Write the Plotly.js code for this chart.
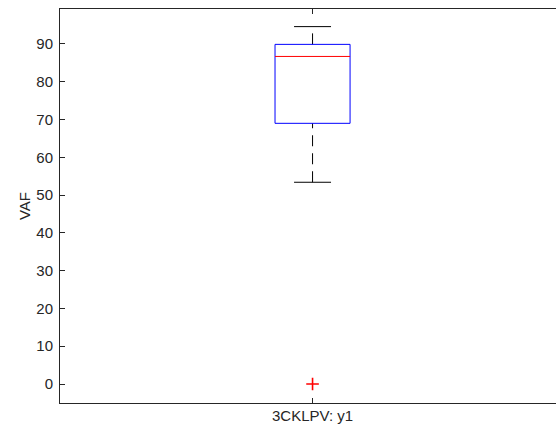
<!DOCTYPE html>
<html>
<head>
<meta charset="utf-8">
<script src="https://cdn.plot.ly/plotly-3.0.1.min.js"></script>
<style>
  html, body { margin: 0; padding: 0; background: #fff; }
  #chart { width: 556px; height: 430px; }
</style>
</head>
<body>
<div id="chart"></div>
<script>
// Box-plot summary for the single group
const groups = ['3CKLPV: y1'];
const q1 = [69.0];
const medians = [86.7];
const q3 = [89.9];
const lowerWhisker = [53.4];
const upperWhisker = [94.6];
const outliers = [[0]];

const yTicks = [0, 10, 20, 30, 40, 50, 60, 70, 80, 90];

// Drawing widths in x-axis units (groups sit at 1, 2, ...)
const BOX_HALF = 0.0743;
const CAP_HALF = 0.0366;

const AXIS_COLOR = '#262626';
const FONT = 'Liberation Sans, Arial, Helvetica, sans-serif';

const traces = [];
groups.forEach((g, i) => {
  const c = i + 1;
  const dashed = { color: '#000000', width: 1, dash: '11px,7px' };
  // upper whisker (drawn from box upwards)
  traces.push({ type: 'scatter', mode: 'lines', x: [c, c], y: [q3[i], upperWhisker[i]],
    line: dashed, hoverinfo: 'skip' });
  // lower whisker (drawn from its end up to the box)
  traces.push({ type: 'scatter', mode: 'lines', x: [c, c], y: [lowerWhisker[i], q1[i]],
    line: dashed, hoverinfo: 'skip' });
  // whisker caps
  traces.push({ type: 'scatter', mode: 'lines',
    x: [c - CAP_HALF, c + CAP_HALF, null, c - CAP_HALF, c + CAP_HALF],
    y: [upperWhisker[i], upperWhisker[i], null, lowerWhisker[i], lowerWhisker[i]],
    line: { color: '#000000', width: 1 }, hoverinfo: 'skip' });
  // box
  traces.push({ type: 'scatter', mode: 'lines',
    x: [c - BOX_HALF, c + BOX_HALF, c + BOX_HALF, c - BOX_HALF, c - BOX_HALF],
    y: [q1[i], q1[i], q3[i], q3[i], q1[i]],
    line: { color: '#0000ff', width: 1 }, hoverinfo: 'skip' });
  // median
  traces.push({ type: 'scatter', mode: 'lines',
    x: [c - BOX_HALF, c + BOX_HALF], y: [medians[i], medians[i]],
    line: { color: '#ff0000', width: 1 }, hoverinfo: 'skip' });
  // outliers
  traces.push({ type: 'scatter', mode: 'markers',
    x: outliers[i].map(() => c), y: outliers[i],
    marker: { symbol: 'cross-thin', size: 9, line: { color: '#ff0000', width: 1.6 } },
    hoverinfo: 'skip' });
});

const layout = {
  width: 556,
  height: 430,
  margin: { l: 60, r: 0, t: 9, b: 27 },
  paper_bgcolor: '#ffffff',
  plot_bgcolor: '#ffffff',
  showlegend: false,
  font: { family: FONT, size: 15, color: AXIS_COLOR },
  xaxis: {
    range: [0.5, 1.482],
    tickvals: groups.map((g, i) => i + 1),
    ticktext: groups,
    ticks: 'inside',
    ticklen: 5,
    tickcolor: AXIS_COLOR,
    showline: true,
    linecolor: AXIS_COLOR,
    linewidth: 1,
    mirror: 'ticks',
    showgrid: false,
    zeroline: false,
    ticklabelstandoff: -1,
    tickfont: { family: FONT, size: 15, color: AXIS_COLOR }
  },
  yaxis: {
    range: [-5.03, 99.26],
    tickvals: yTicks,
    ticks: 'inside',
    ticklen: 5,
    tickcolor: AXIS_COLOR,
    showline: true,
    linecolor: AXIS_COLOR,
    linewidth: 1,
    showgrid: false,
    zeroline: false,
    ticklabelstandoff: 3,
    tickfont: { family: FONT, size: 15, color: AXIS_COLOR },
    title: { text: 'VAF', font: { family: FONT, size: 15, color: AXIS_COLOR }, standoff: 2 }
  }
};

Plotly.newPlot('chart', traces, layout, { displayModeBar: false, staticPlot: true });
</script>
</body>
</html>
